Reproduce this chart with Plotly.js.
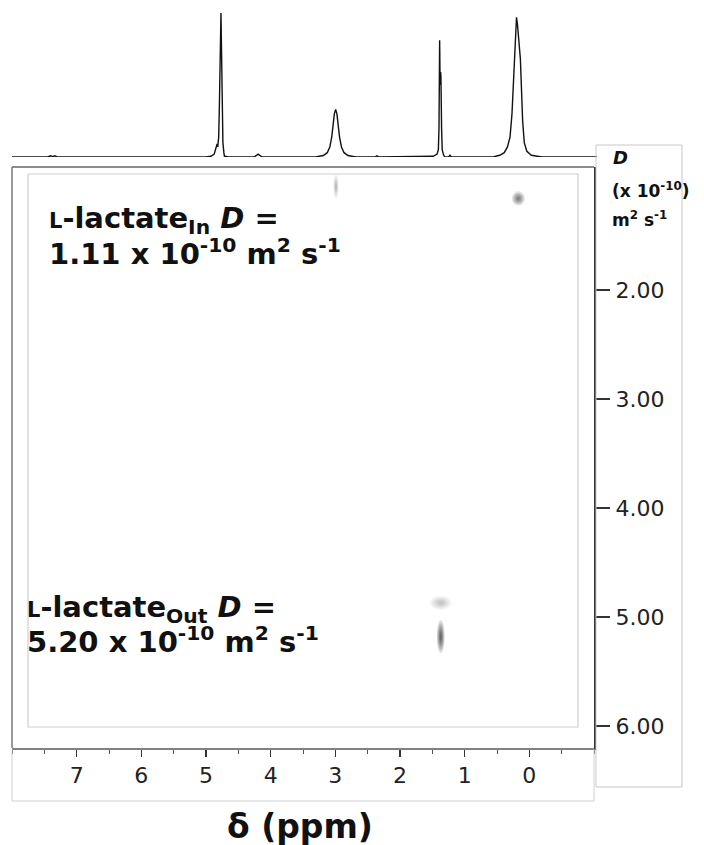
<!DOCTYPE html>
<html><head><meta charset="utf-8">
<script src="https://cdn.plot.ly/plotly-3.0.1.min.js"></script>
<style>html,body{margin:0;padding:0;background:#fff}</style>
</head><body><div id="chart" style="width:704px;height:845px"></div>
<script>
// 1D projection spectrum: chemical shift (ppm) and relative intensity
const specPpm = [8.0, 7.45, 7.40, 7.37, 7.34, 7.30, 5.0, 4.92, 4.87, 4.84, 4.825, 4.815, 4.80, 4.79, 4.78, 4.775, 4.765, 4.755, 4.745, 4.735, 4.72, 4.705, 4.69, 4.65,
  4.25, 4.19, 4.13, 3.30, 3.18, 3.12, 3.08, 3.05, 3.03, 3.01, 2.99, 2.97, 2.95, 2.93, 2.90, 2.86, 2.80, 2.68,
  2.38, 2.35, 2.32, 1.60, 1.48, 1.42, 1.40, 1.39, 1.385, 1.38, 1.375, 1.37, 1.365, 1.36, 1.35, 1.34, 1.32, 1.30, 1.24, 1.22, 1.20,
  0.55, 0.45, 0.38, 0.33, 0.29, 0.26, 0.235, 0.21, 0.19, 0.175, 0.16, 0.145, 0.13, 0.115, 0.095, 0.07, 0.03, -0.04, -0.2, -1.06];
const specInt = [0, 0, 0.8, 0.3, 0.8, 0, 0, 0.5, 2, 6, 9, 7, 14, 35, 80, 100, 100, 70, 30, 10, 3, -1.5, 0.5, 0,
  0, 2, 0, 0, 1, 3, 7, 14, 22, 30, 33, 30, 22, 14, 7, 3, 1, 0,
  0, 0.8, 0, 0, 0.5, 2, 5, 20, 56, 81, 60, 50, 59, 56, 20, 5, 1.5, 0, 0, 1.2, 0,
  0, 1.2, 3, 7, 14, 30, 58, 86, 97, 92, 80, 76, 68, 45, 25, 10, 4, 1.2, 0, 0];

// DOSY cross peaks: shift (ppm), D (x 1e-10 m2/s), relative level, linewidths
const peakPpm = [2.99, 0.17, 1.37, 1.37];
const peakD = [1.05, 1.16, 4.87, 5.18];
const peakLevel = [0.32, 0.62, 0.24, 0.85];
const peakWidthPpm = [0.08, 0.2, 0.34, 0.12];
const peakWidthD = [0.22, 0.13, 0.13, 0.3];

// axis ticks
const xTickVals = [7, 6, 5, 4, 3, 2, 1, 0];
const xTickText = ['7', '6', '5', '4', '3', '2', '1', '0'];
const yTickVals = [2, 3, 4, 5, 6];
const yTickText = ['2.00', '3.00', '4.00', '5.00', '6.00'];

const W = 704, H = 845;
const px = p => p / W;
const py = p => 1 - p / H;
const FONT = 'DejaVu Sans, Liberation Sans, Arial, sans-serif';

const traces = [
  {x: specPpm, y: specInt, xaxis: 'x2', yaxis: 'y2', type: 'scatter', mode: 'lines',
   line: {color: '#111', width: 1.4}, hoverinfo: 'skip', showlegend: false},
  {x: [7, 0], y: [3, 3], xaxis: 'x', yaxis: 'y', type: 'scatter', mode: 'markers',
   marker: {opacity: 0}, hoverinfo: 'skip', showlegend: false}
];

const shapes = [];
// cross peaks as blurred ellipses
const layerScale = [1.0, 0.82, 0.65, 0.5, 0.36, 0.24];
peakPpm.forEach((p, i) => {
  layerScale.forEach(s => {
    shapes.push({type: 'circle', xref: 'x', yref: 'y', layer: 'above',
      x0: p - peakWidthPpm[i] * s / 2, x1: p + peakWidthPpm[i] * s / 2,
      y0: peakD[i] - peakWidthD[i] * s / 2, y1: peakD[i] + peakWidthD[i] * s / 2,
      fillcolor: 'rgba(40,40,40,' + (peakLevel[i] * 0.2).toFixed(3) + ')',
      line: {width: 0}});
  });
});
// frames
shapes.push({type: 'rect', xref: 'paper', yref: 'paper', x0: px(28), x1: px(578), y0: py(727), y1: py(174),
  line: {color: '#cfcfcf', width: 1.2}});
shapes.push({type: 'line', xref: 'paper', yref: 'paper', x0: px(12), x1: px(594), y0: py(167), y1: py(167),
  line: {color: '#666', width: 1.5}});
shapes.push({type: 'line', xref: 'paper', yref: 'paper', x0: px(12), x1: px(12), y0: py(167), y1: py(748),
  line: {color: '#777', width: 1.5}});
shapes.push({type: 'rect', xref: 'paper', yref: 'paper', x0: px(12), x1: px(594), y0: py(801), y1: py(749),
  line: {color: '#d0d0d0', width: 1}});
shapes.push({type: 'rect', xref: 'paper', yref: 'paper', x0: px(596), x1: px(682), y0: py(787), y1: py(145),
  line: {color: '#c8c8c8', width: 1}});

const L = '<span style="font-size:21px">L</span>';
const ann = (text, x, y, size, anchor) => ({text, x: px(x), y: py(y), xref: 'paper', yref: 'paper',
  xanchor: anchor || 'left', yanchor: 'middle', showarrow: false,
  font: {family: FONT, size, color: '#111'}});

const annotations = [
  ann('<b>' + L + '-lactate<sub>In</sub>\u00A0<i>D</i>\u00A0=</b>', 47, 220, 29),
  ann('<b>1.11 x 10<sup>-10</sup> m<sup>2</sup> s<sup>-1</sup></b>', 47, 252, 29),
  ann('<b>' + L + '-lactate<sub>Out</sub>\u00A0<i>D</i>\u00A0=</b>', 25, 609, 29),
  ann('<b>5.20 x 10<sup>-10</sup> m<sup>2</sup> s<sup>-1</sup></b>', 25, 640, 29),
  ann('<b>δ (ppm)</b>', 300, 826, 33, 'center'),
  ann('<b><i>D</i></b>', 611, 158, 18),
  ann('<b>(x 10<sup>-10</sup>)</b>', 610, 190, 17),
  ann('<b>m<sup>2</sup> s<sup>-1</sup></b>', 610, 219, 17)
];

const layout = {
  width: W, height: H,
  margin: {l: 0, r: 0, t: 0, b: 0},
  paper_bgcolor: '#fff', plot_bgcolor: 'rgba(0,0,0,0)',
  showlegend: false,
  font: {family: FONT, color: '#222'},
  xaxis: {domain: [px(12), px(594)], range: [8, -1], anchor: 'y',
    tickmode: 'array', tickvals: xTickVals, ticktext: xTickText,
    ticks: 'outside', ticklen: 7, tickwidth: 1.5, tickcolor: '#333',
    minor: {tickmode: 'linear', tick0: 0, dtick: 0.5, ticks: 'outside', ticklen: 4, tickcolor: '#555', tickwidth: 1},
    showline: true, linecolor: '#333', linewidth: 2, showgrid: false, zeroline: false,
    tickfont: {family: FONT, size: 22, color: '#222'}, ticklabelstandoff: 0, fixedrange: true},
  yaxis: {domain: [py(748), py(167)], range: [6.2018, 0.8716], anchor: 'x', side: 'right',
    tickmode: 'array', tickvals: yTickVals, ticktext: yTickText,
    ticks: 'outside', ticklen: 14, tickwidth: 1.5, tickcolor: '#333',
    showline: true, linecolor: '#333', linewidth: 2, showgrid: false, zeroline: false,
    tickfont: {family: FONT, size: 22, color: '#222'}, ticklabelstandoff: 1, fixedrange: true},
  xaxis2: {domain: [px(12), px(597)], range: [8, -1.056], anchor: 'y2', visible: false, fixedrange: true},
  yaxis2: {domain: [py(157), 1], range: [0, 157 / 144 * 100], anchor: 'x2', visible: false, fixedrange: true},
  shapes, annotations
};

Plotly.newPlot('chart', traces, layout, {displayModeBar: false, staticPlot: true});
</script></body></html>
